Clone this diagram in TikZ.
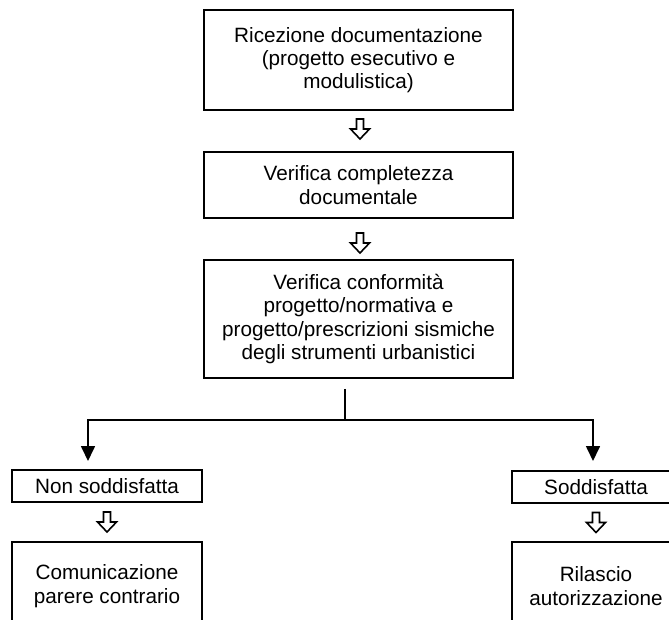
\documentclass[tikz,border=0pt]{standalone}
\usepackage{fontspec}
\setmainfont{Liberation Sans}
\usetikzlibrary{arrows.meta, calc, positioning}
\tikzset{
  x=1pt, y=1pt,
  box/.style={draw, line width=1.6pt, align=center, inner sep=0pt,
    font=\fontsize{20.7}{23.3}\selectfont},
  line/.style={line width=1.7pt},
  arr/.style={line width=1.7pt, -{Triangle[length=15pt,width=14pt]}},
  pics/hollow/.style={code={
    \draw[line width=1.6pt, fill=white] (-3.5,10) -- (3.5,10) -- (3.5,0)
      -- (9.5,0) -- (0,-10) -- (-9.5,0) -- (-3.5,0) -- cycle;}},
}

\begin{document}
\begin{tikzpicture}
  \useasboundingbox (0,0) rectangle (669,-620);
  \clip (0,0) rectangle (669,-620);

  \node[box, minimum width=309pt, minimum height=100pt] (b1) at (358.5,-60)
    {Ricezione documentazione\\(progetto esecutivo e\\modulistica)};
  \node[box, minimum width=309pt, minimum height=66pt]  (b2) at (358.5,-185)
    {Verifica completezza\\documentale};
  \node[box, minimum width=309pt, minimum height=118pt] (b3) at (358.5,-319)
    {Verifica conformità\\progetto/normativa e\\progetto/prescrizioni sismiche\\degli strumenti urbanistici};
  \node[box, minimum width=190pt, minimum height=32pt]  (no) at (107,-486) {Non soddisfatta};
  \node[box, minimum width=190pt, minimum height=88pt]  (com) at (107,-586)
    {Comunicazione\\parere contrario};
  \node[box, minimum width=168pt, minimum height=32pt]  (si) at (596,-487) {Soddisfatta};
  \node[box, minimum width=168pt, minimum height=88pt]  (ril) at (596,-586)
    {Rilascio\\autorizzazione};

  \pic at ($(b1.south)!0.5!(b2.north)+(1.5,2)$) {hollow};
  \pic at ($(b2.south)!0.5!(b3.north)+(1.5,-4)$) {hollow};
  \pic at ($(no.south)!0.5!(com.north)$) {hollow};
  \pic at ($(si.south)!0.5!(ril.north)$) {hollow};

  \coordinate (split) at ($(b3.south)+(-13.5,-10)$);
  \coordinate (fork)  at ($(split)+(0,-31)$);
  \coordinate (tipL)  at (88,-461);
  \coordinate (tipR)  at (593,-461);

  \draw[line] (split) -- (fork);
  \draw[arr] (fork) -| (tipL);
  \draw[arr] (fork) -| (tipR);
\end{tikzpicture}
\end{document}
